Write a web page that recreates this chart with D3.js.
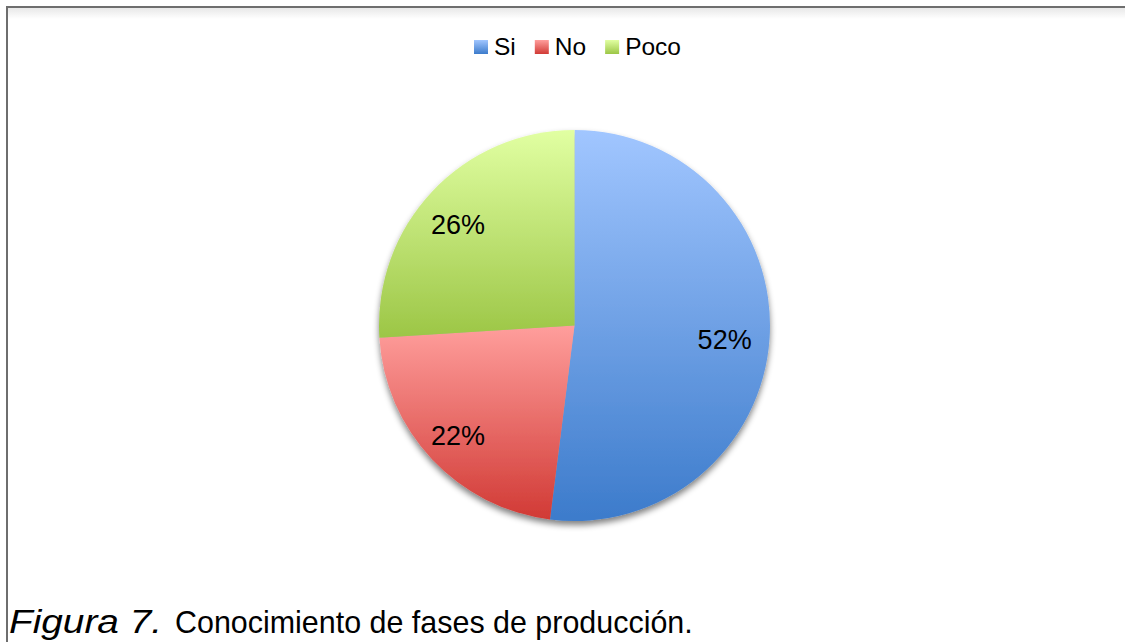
<!DOCTYPE html>
<html>
<head>
<meta charset="utf-8">
<script src="https://cdn.jsdelivr.net/npm/d3@7/dist/d3.min.js"></script>
<style>
  html, body { margin: 0; padding: 0; background: #ffffff; overflow: hidden; }
  svg { display: block; }
  text { font-family: "Liberation Sans", Arial, sans-serif; fill: #000; }
</style>
</head>
<body>
<svg id="chart" width="1125" height="642"></svg>
<script>
// Survey answers: share of respondents (%)
const categories = ["Si", "No", "Poco"];
const values = [52, 22, 26];
const valueLabels = ["52%", "22%", "26%"];
const captionLead = "Figura 7.";
const captionRest = "Conocimiento de fases de producción.";

// top / bottom stops of each slice's vertical gradient
const gradTop = ["#a1c6ff", "#ff9e9c", "#e1ffa2"];
const gradBottom = ["#3c7bcb", "#d13a35", "#9cc646"];

const W = 1125, H = 642;
const cx = 574.5, cy = 325.5, R = 195.5;

const svg = d3.select("#chart");
const defs = svg.append("defs");

categories.forEach((c, i) => {
  const g = defs.append("linearGradient")
    .attr("id", "grad" + i)
    .attr("x1", 0).attr("y1", 0).attr("x2", 0).attr("y2", 1);
  g.append("stop").attr("offset", "0%").attr("stop-color", gradTop[i]);
  g.append("stop").attr("offset", "100%").attr("stop-color", gradBottom[i]);
});

// soft shadow beneath the pie
const sh = defs.append("filter").attr("id", "pieShadow")
  .attr("x", "-20%").attr("y", "-20%").attr("width", "140%").attr("height", "140%");
sh.append("feGaussianBlur").attr("in", "SourceAlpha").attr("stdDeviation", 3).attr("result", "b");
sh.append("feOffset").attr("in", "b").attr("dx", 0).attr("dy", 4).attr("result", "o");
sh.append("feComponentTransfer").attr("in", "o").attr("result", "s")
  .append("feFuncA").attr("type", "linear").attr("slope", 0.5);
const m = sh.append("feMerge");
m.append("feMergeNode").attr("in", "s");
m.append("feMergeNode").attr("in", "SourceGraphic");

// shade under the top frame line
const topShade = defs.append("linearGradient").attr("id", "topShade")
  .attr("x1", 0).attr("y1", 0).attr("x2", 0).attr("y2", 1);
topShade.append("stop").attr("offset", "0%").attr("stop-color", "#e8e8e8");
topShade.append("stop").attr("offset", "100%").attr("stop-color", "#ffffff");

// frame: top and left edges
svg.append("rect").attr("x", 7).attr("y", 8).attr("width", W - 7).attr("height", 11)
  .attr("fill", "url(#topShade)");
svg.append("line").attr("x1", 7).attr("x2", W).attr("y1", 7).attr("y2", 7)
  .attr("stroke", "#6e6e6e").attr("stroke-width", 2);
svg.append("line").attr("x1", 7).attr("x2", 7).attr("y1", 6).attr("y2", H)
  .attr("stroke", "#6e6e6e").attr("stroke-width", 2);

// pie
const pie = d3.pie().sort(null).value(d => d)(values);
const arc = d3.arc().innerRadius(0).outerRadius(R);

const pg = svg.append("g").attr("transform", `translate(${cx},${cy})`);
pg.append("g").attr("filter", "url(#pieShadow)")
  .selectAll("path").data(pie).join("path")
  .attr("d", arc)
  .attr("fill", (d, i) => `url(#grad${i})`);

// value labels
const labelR = R * 0.79;
const labelArc = d3.arc().innerRadius(labelR).outerRadius(labelR);
pg.selectAll("text.val").data(pie).join("text")
  .attr("class", "val")
  .attr("transform", d => {
    const [x, y] = labelArc.centroid(d);
    return `translate(${x - 4},${y + 4})`;
  })
  .attr("text-anchor", "middle")
  .attr("dy", "0.36em")
  .style("font-size", "27px")
  .text((d, i) => valueLabels[i]);

// legend
const legend = svg.append("g");
let lx = 474;
categories.forEach((c, i) => {
  legend.append("rect").attr("x", lx).attr("y", 40).attr("width", 14).attr("height", 14)
    .attr("fill", `url(#grad${i})`);
  const t = legend.append("text").attr("x", lx + 20).attr("y", 55)
    .style("font-size", "24.5px").text(c);
  lx += 20 + t.node().getComputedTextLength() + 19;
});

// caption: italic lead plus condensed regular text
function fitText(str, left, right, baseline, italic, size) {
  const t = svg.append("text").attr("x", 0).attr("y", 0)
    .style("font-size", size + "px")
    .style("font-style", italic ? "italic" : "normal")
    .text(str);
  const w = t.node().getComputedTextLength();
  t.attr("transform", `translate(${left},${baseline}) scale(${(right - left) / w},1)`);
}
fitText(captionLead, 9, 162, 633, true, 34);
fitText(captionRest, 175, 693, 633, false, 32);
</script>
</body>
</html>
